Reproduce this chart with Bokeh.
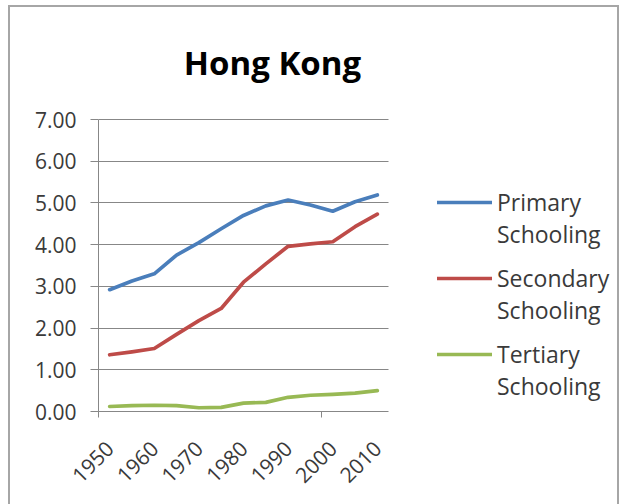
import math
from bokeh.plotting import figure
from bokeh.models import Range1d, FixedTicker, Legend, LegendItem, InlineStyleSheet, Label
from bokeh.embed import file_html
from bokeh.resources import INLINE

years = [1950, 1955, 1960, 1965, 1970, 1975, 1980, 1985, 1990, 1995, 2000, 2005, 2010]
primary = [2.92, 3.13, 3.30, 3.75, 4.05, 4.38, 4.70, 4.93, 5.07, 4.95, 4.80, 5.03, 5.19]
secondary = [1.36, 1.43, 1.51, 1.85, 2.18, 2.47, 3.10, 3.54, 3.96, 4.02, 4.07, 4.43, 4.73]
tertiary = [0.12, 0.14, 0.15, 0.14, 0.09, 0.10, 0.20, 0.22, 0.34, 0.39, 0.41, 0.44, 0.50]
year_ticks = [1950, 1960, 1970, 1980, 1990, 2000, 2010]
y_ticks = [0, 1, 2, 3, 4, 5, 6, 7]
series_first = ["Primary", "Secondary", "Tertiary"]
series_second = ["Schooling", "Schooling", "Schooling"]
colors = ["#4a7ebb", "#be4b48", "#98b954"]
title_text = "Hong Kong"

FONT = "Open Sans"
TXT = "#3a3a3a"
GRID = "#878787"

# layout in pixels
W, H = 625, 504
LEFT, TOP, BOTTOM, RIGHT = 98, 6, 93, 3
PLOT_W, PLOT_H = 290, 292          # size of the data area (bottom-left anchored)
FRAME_W = W - LEFT - RIGHT          # frame extends under legend and title
FRAME_H = H - TOP - BOTTOM
x0, x1 = years[0] - 2.5, years[-1] + 2.5
y0, y1 = 0, 7
x_end = x0 + (x1 - x0) * FRAME_W / PLOT_W
y_end = y0 + (y1 - y0) * FRAME_H / PLOT_H

p = figure(width=W, height=H, output_backend="svg", toolbar_location=None,
           x_range=Range1d(x0, x_end), y_range=Range1d(y0, y_end),
           min_border_left=LEFT, min_border_right=RIGHT, min_border_top=TOP,
           min_border_bottom=BOTTOM)
p.outline_line_color = None
p.background_fill_color = "white"
p.border_fill_color = "white"

# axes
p.xaxis.ticker = FixedTicker(ticks=year_ticks, minor_ticks=[x0, 1997.5])
p.xaxis.bounds = (x0, x1)
p.xaxis.major_label_orientation = math.pi / 4
p.xaxis.major_tick_out = 0
p.xaxis.major_tick_in = 0
p.xaxis.minor_tick_out = 6
p.xaxis.minor_tick_in = 0
p.xaxis.minor_tick_line_color = GRID
p.xaxis.axis_line_color = GRID
p.xaxis.major_label_text_font = FONT
p.xaxis.major_label_text_font_size = "21px"
p.xaxis.major_label_text_color = TXT
p.xaxis.major_label_standoff = 27

p.yaxis.ticker = FixedTicker(ticks=y_ticks)
p.yaxis.bounds = (y0, y1)
p.yaxis.major_label_overrides = {v: f"{v:.2f}" for v in y_ticks}
p.yaxis.minor_tick_line_color = None
p.yaxis.major_tick_out = 8
p.yaxis.major_tick_in = 0
p.yaxis.major_tick_line_color = GRID
p.yaxis.axis_line_color = GRID
p.yaxis.major_label_text_font = FONT
p.yaxis.major_label_text_font_size = "21px"
p.yaxis.major_label_text_color = TXT
p.yaxis.major_label_standoff = 14

p.xgrid.grid_line_color = None
p.ygrid.ticker = FixedTicker(ticks=y_ticks)
p.ygrid.grid_line_color = GRID
p.ygrid.grid_line_width = 1
p.ygrid.cross_bounds = (x0, x1)

renderers = []
for vals, c in zip([primary, secondary, tertiary], colors):
    r = p.line(years, vals, line_color=c, line_width=3.7, line_join="round", line_cap="round")
    renderers.append(r)

common = dict(padding=0, margin=0, border_line_color=None, background_fill_alpha=0,
              glyph_width=55, glyph_height=32, label_height=32, label_standoff=5,
              spacing=44, label_text_font=FONT, label_text_font_size="23px",
              label_text_color=TXT, label_text_baseline="middle")

legend_a = Legend(items=[LegendItem(label=n, renderers=[r]) for n, r in zip(series_first, renderers)],
                  location=(339, 41), **common)
legend_b = Legend(items=[LegendItem(label=n, renderers=[]) for n in series_second],
                  location=(339, 9), **common)
p.add_layout(legend_a, "center")
p.add_layout(legend_b, "center")

title = Label(x=174, y=349, x_units="screen", y_units="screen", text=title_text,
              text_font=FONT, text_font_style="bold", text_font_size="33px",
              text_color="black", text_align="center", text_baseline="alphabetic")
p.add_layout(title)

p.stylesheets = [InlineStyleSheet(css="""
:host { position: relative; }
:host::after {
  content: ""; position: absolute; left: 8px; top: 5px; width: 611px; height: 600px;
  border: 2px solid #a6a6a6; pointer-events: none; box-sizing: border-box;
}
""")]

open("out.html", "w").write(file_html(p, INLINE))
